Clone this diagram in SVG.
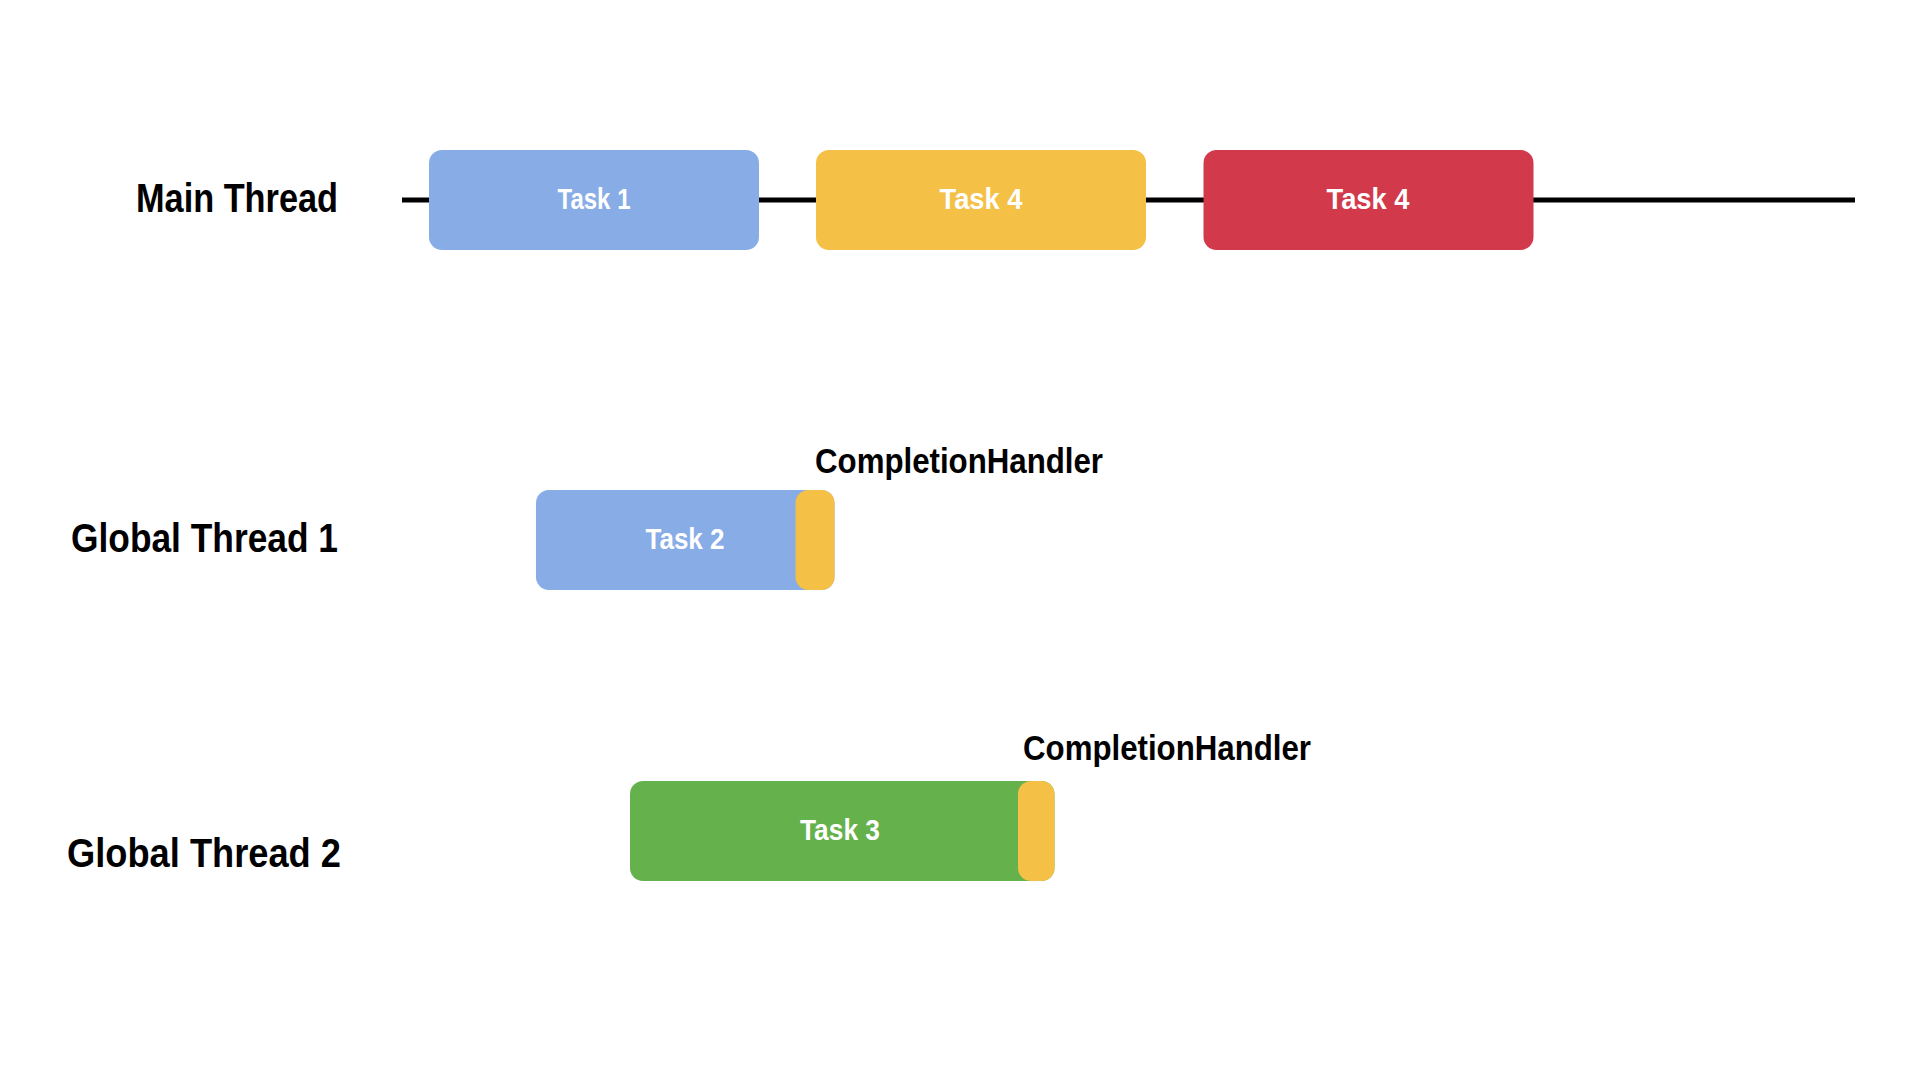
<svg xmlns="http://www.w3.org/2000/svg" width="1920" height="1080" viewBox="0 0 1920 1080">
  <style>
    .lbl { font-family: "Liberation Sans", "Noto Sans", Arial, sans-serif; font-weight: bold; fill: #000; }
    .thread { font-size: 40px; }
    .ch { font-size: 35px; }
    .task { font-family: "Liberation Sans", "Noto Sans", Arial, sans-serif; font-weight: bold; font-size: 29px; fill: #fff; text-anchor: middle; }
    .blue { fill: #87ACE6; }
    .yellow { fill: #F4C046; }
    .red { fill: #D2394B; }
    .green { fill: #65B14C; }
    .timeline { stroke: #000; stroke-width: 5; fill: none; }
  </style>
  <rect width="1920" height="1080" fill="#fff"/>

  <g id="connectors">
    <line class="timeline" x1="402" y1="200" x2="1855" y2="200"/>
  </g>

  <g id="label-main-thread">
    <text class="lbl thread" x="136" y="212" textLength="202" lengthAdjust="spacingAndGlyphs">Main Thread</text>
  </g>
  <g id="label-global-thread-1">
    <text class="lbl thread" x="71" y="552" textLength="267" lengthAdjust="spacingAndGlyphs">Global Thread 1</text>
  </g>
  <g id="label-global-thread-2">
    <text class="lbl thread" x="67" y="867" textLength="274" lengthAdjust="spacingAndGlyphs">Global Thread 2</text>
  </g>

  <g id="task1">
    <rect class="blue" x="429" y="150" width="330" height="100" rx="13"/>
    <text class="task" x="594" y="208.5" textLength="73" lengthAdjust="spacingAndGlyphs">Task 1</text>
  </g>
  <g id="task4-yellow">
    <rect class="yellow" x="816" y="150" width="330" height="100" rx="13"/>
    <text class="task" x="981" y="208.5" textLength="83" lengthAdjust="spacingAndGlyphs">Task 4</text>
  </g>
  <g id="task4-red">
    <rect class="red" x="1203.5" y="150" width="330" height="100" rx="13"/>
    <text class="task" x="1368" y="208.5" textLength="83" lengthAdjust="spacingAndGlyphs">Task 4</text>
  </g>

  <g id="task2">
    <rect class="blue" x="536" y="490" width="298.5" height="100" rx="13"/>
    <rect class="yellow" x="795.5" y="490" width="39" height="100" rx="13"/>
    <text class="task" x="685" y="548.5" textLength="79" lengthAdjust="spacingAndGlyphs">Task 2</text>
  </g>
  <g id="completion-handler-1">
    <text class="lbl ch" x="815" y="473" textLength="288" lengthAdjust="spacingAndGlyphs">CompletionHandler</text>
  </g>

  <g id="task3">
    <rect class="green" x="630" y="781" width="424.5" height="100" rx="13"/>
    <rect class="yellow" x="1018" y="781" width="36.5" height="100" rx="13"/>
    <text class="task" x="840" y="839.5" textLength="80" lengthAdjust="spacingAndGlyphs">Task 3</text>
  </g>
  <g id="completion-handler-2">
    <text class="lbl ch" x="1023" y="760" textLength="288" lengthAdjust="spacingAndGlyphs">CompletionHandler</text>
  </g>
</svg>
